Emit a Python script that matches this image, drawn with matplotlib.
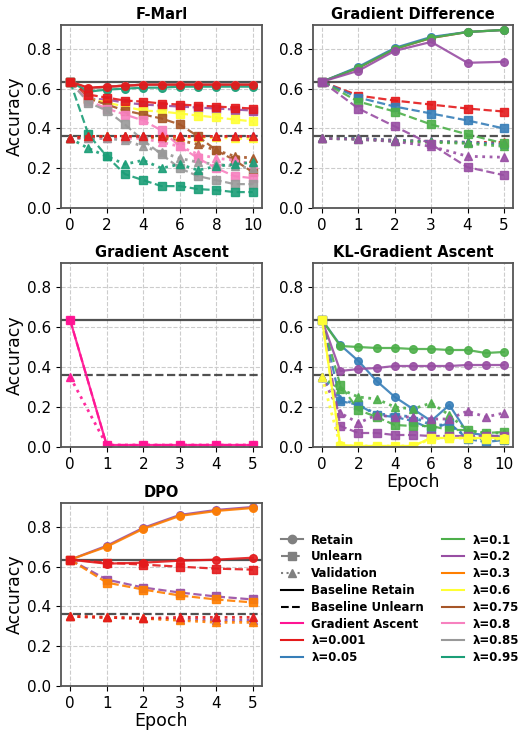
import numpy as np
import matplotlib.pyplot as plt
from matplotlib.lines import Line2D

# colours for each lambda
lam_colors = {
    '0.001': '#e41a1c', '0.05': '#377eb8', '0.1': '#4daf4a', '0.2': '#984ea3',
    '0.3': '#ff7f00', '0.6': '#ffff33', '0.75': '#a65628', '0.8': '#f781bf',
    '0.85': '#999999', '0.95': '#1b9e77',
}
ga_color = '#ff1493'
baseline_retain = 0.635
baseline_unlearn = 0.362

ep10 = list(range(11))
ep5 = list(range(6))

# F-Marl: (retain, unlearn, validation) per lambda
fmarl = {
    '0.2':  ([0.635, 0.60, 0.61, 0.615, 0.62, 0.62, 0.62, 0.62, 0.62, 0.62, 0.62],
             [0.635, 0.55, 0.545, 0.53, 0.52, 0.515, 0.51, 0.505, 0.50, 0.495, 0.49],
             [0.35, 0.36, 0.36, 0.36, 0.36, 0.36, 0.36, 0.36, 0.36, 0.36, 0.36]),
    '0.6':  ([0.635, 0.60, 0.61, 0.615, 0.62, 0.62, 0.62, 0.62, 0.62, 0.62, 0.62],
             [0.635, 0.55, 0.53, 0.51, 0.49, 0.485, 0.475, 0.465, 0.455, 0.445, 0.435],
             [0.35, 0.36, 0.36, 0.355, 0.355, 0.355, 0.355, 0.355, 0.355, 0.35, 0.35]),
    '0.75': ([0.635, 0.60, 0.61, 0.615, 0.62, 0.62, 0.62, 0.62, 0.62, 0.62, 0.62],
             [0.635, 0.55, 0.52, 0.49, 0.47, 0.45, 0.42, 0.36, 0.29, 0.24, 0.18],
             [0.35, 0.36, 0.36, 0.36, 0.36, 0.35, 0.34, 0.32, 0.29, 0.26, 0.25]),
    '0.8':  ([0.635, 0.60, 0.61, 0.615, 0.62, 0.62, 0.62, 0.62, 0.62, 0.62, 0.62],
             [0.635, 0.54, 0.50, 0.47, 0.44, 0.39, 0.31, 0.25, 0.20, 0.16, 0.15],
             [0.35, 0.35, 0.35, 0.35, 0.35, 0.33, 0.31, 0.27, 0.25, 0.24, 0.22]),
    '0.85': ([0.635, 0.60, 0.61, 0.615, 0.62, 0.62, 0.62, 0.62, 0.62, 0.62, 0.62],
             [0.635, 0.53, 0.49, 0.42, 0.34, 0.27, 0.20, 0.16, 0.14, 0.12, 0.12],
             [0.35, 0.35, 0.35, 0.34, 0.31, 0.28, 0.25, 0.23, 0.22, 0.21, 0.20]),
    '0.95': ([0.635, 0.585, 0.595, 0.60, 0.605, 0.605, 0.61, 0.61, 0.61, 0.61, 0.61],
             [0.635, 0.37, 0.26, 0.17, 0.14, 0.11, 0.11, 0.095, 0.09, 0.08, 0.08],
             [0.35, 0.30, 0.26, 0.22, 0.24, 0.20, 0.22, 0.19, 0.21, 0.22, 0.23]),
    '0.001': ([0.635, 0.605, 0.61, 0.615, 0.62, 0.62, 0.62, 0.62, 0.62, 0.62, 0.62],
              [0.635, 0.57, 0.555, 0.54, 0.535, 0.525, 0.52, 0.515, 0.51, 0.505, 0.50],
              [0.35, 0.36, 0.36, 0.36, 0.36, 0.36, 0.36, 0.36, 0.36, 0.36, 0.36]),
}

graddiff = {
    '0.001': ([0.635, 0.705, 0.80, 0.855, 0.885, 0.895],
              [0.635, 0.565, 0.54, 0.52, 0.50, 0.485],
              [0.35, 0.35, 0.34, 0.335, 0.33, 0.33]),
    '0.05': ([0.635, 0.71, 0.805, 0.86, 0.885, 0.895],
             [0.635, 0.555, 0.51, 0.475, 0.44, 0.40],
             [0.35, 0.35, 0.34, 0.335, 0.33, 0.32]),
    '0.1': ([0.635, 0.705, 0.80, 0.855, 0.885, 0.895],
            [0.635, 0.535, 0.485, 0.42, 0.37, 0.325],
            [0.35, 0.345, 0.335, 0.33, 0.325, 0.31]),
    '0.2': ([0.635, 0.69, 0.79, 0.835, 0.73, 0.735],
            [0.635, 0.50, 0.41, 0.32, 0.205, 0.165],
            [0.35, 0.345, 0.335, 0.31, 0.26, 0.255]),
}

ga_retain = [0.635, 0.01, 0.01, 0.01, 0.01, 0.01]
ga_unlearn = [0.635, 0.01, 0.01, 0.01, 0.01, 0.01]
ga_val = [0.35, 0.01, 0.01, 0.01, 0.01, 0.01]

klga = {
    '0.05': ([0.635, 0.51, 0.43, 0.33, 0.25, 0.19, 0.13, 0.21, 0.07, 0.06, 0.05],
             [0.635, 0.23, 0.21, 0.16, 0.15, 0.13, 0.09, 0.12, 0.04, 0.025, 0.035],
             [0.35, 0.24, 0.21, 0.165, 0.16, 0.15, 0.11, 0.11, 0.05, 0.04, 0.04]),
    '0.1': ([0.635, 0.505, 0.50, 0.495, 0.495, 0.49, 0.49, 0.485, 0.485, 0.47, 0.475],
            [0.635, 0.31, 0.185, 0.15, 0.11, 0.105, 0.105, 0.085, 0.085, 0.07, 0.075],
            [0.35, 0.29, 0.25, 0.24, 0.20, 0.19, 0.22, 0.16, 0.08, 0.07, 0.07]),
    '0.2': ([0.635, 0.38, 0.39, 0.395, 0.405, 0.405, 0.405, 0.405, 0.41, 0.41, 0.41],
            [0.635, 0.105, 0.07, 0.07, 0.06, 0.06, 0.055, 0.055, 0.055, 0.055, 0.055],
            [0.35, 0.17, 0.12, 0.16, 0.15, 0.15, 0.14, 0.14, 0.18, 0.15, 0.17]),
    '0.6': ([0.635, 0.01, 0.005, 0.005, 0.005, 0.005, 0.045, 0.045, 0.045, 0.045, 0.045],
            [0.635, 0.005, 0.005, 0.005, 0.005, 0.005, 0.045, 0.045, 0.045, 0.045, 0.04],
            [0.35, 0.005, 0.005, 0.005, 0.005, 0.005, 0.04, 0.045, 0.045, 0.04, 0.04]),
}

dpo = {
    '0.2': ([0.635, 0.705, 0.795, 0.86, 0.885, 0.90],
            [0.635, 0.535, 0.495, 0.47, 0.45, 0.435],
            [0.35, 0.345, 0.34, 0.335, 0.33, 0.33]),
    '0.3': ([0.635, 0.70, 0.79, 0.855, 0.88, 0.895],
            [0.635, 0.52, 0.485, 0.455, 0.435, 0.42],
            [0.35, 0.345, 0.34, 0.33, 0.32, 0.32]),
    '0.001': ([0.635, 0.615, 0.62, 0.63, 0.635, 0.645],
              [0.635, 0.62, 0.61, 0.60, 0.59, 0.585],
              [0.35, 0.345, 0.34, 0.345, 0.345, 0.345]),
}

LW = 1.6
MS = 5.5


def draw(ax, epochs, retain, unlearn, val, color):
    ax.plot(epochs, retain, '-', marker='o', color=color, lw=LW, ms=MS,
            mec=color, alpha=0.9)
    ax.plot(epochs, unlearn, '--', marker='s', color=color, lw=LW, ms=MS,
            mec=color, alpha=0.9)
    ax.plot(epochs, val, ':', marker='^', color=color, lw=LW + 0.4, ms=MS,
            mec=color, alpha=0.9)


def style(ax, title, xticks, xlabel=False, ylabel=False):
    ax.axhline(baseline_retain, color='#333333', lw=1.6, alpha=0.85, zorder=1)
    ax.axhline(baseline_unlearn, color='#333333', lw=1.6, ls='--', alpha=0.85, zorder=1)
    ax.set_ylim(0, 0.92)
    ax.set_yticks([0.0, 0.2, 0.4, 0.6, 0.8])
    ax.set_xticks(xticks)
    ax.set_xlim(xticks[0] - 0.05 * (xticks[-1] - xticks[0]), xticks[-1] + 0.05 * (xticks[-1] - xticks[0]))
    ax.grid(True, ls='--', color='#cccccc', lw=0.8)
    ax.set_axisbelow(True)
    ax.tick_params(labelsize=11)
    ax.set_title(title, fontsize=10.5, fontweight='bold', pad=4)
    for s in ax.spines.values():
        s.set_color('#555555')
        s.set_linewidth(1.3)
    if xlabel:
        ax.set_xlabel('Epoch', fontsize=12.5, labelpad=1)
    if ylabel:
        ax.set_ylabel('Accuracy', fontsize=12.5, labelpad=2)


fig = plt.figure(figsize=(5.23, 7.32), dpi=100)
W, H = 523, 732


def add_ax(x0, y0, x1, y1):
    return fig.add_axes([x0 / W, 1 - y1 / H, (x1 - x0) / W, (y1 - y0) / H])


ax1 = add_ax(61, 25, 262, 208)
ax2 = add_ax(313, 25, 513, 208)
ax3 = add_ax(61, 263, 262, 447)
ax4 = add_ax(313, 263, 513, 447)
ax5 = add_ax(61, 503, 262, 686)

for lam, (r, u, v) in fmarl.items():
    draw(ax1, ep10, r, u, v, lam_colors[lam])
style(ax1, 'F-Marl', [0, 2, 4, 6, 8, 10], ylabel=True)

for lam, (r, u, v) in graddiff.items():
    draw(ax2, ep5, r, u, v, lam_colors[lam])
style(ax2, 'Gradient Difference', ep5)

draw(ax3, ep5, ga_retain, ga_unlearn, ga_val, ga_color)
style(ax3, 'Gradient Ascent', ep5, ylabel=True)

for lam, (r, u, v) in klga.items():
    draw(ax4, ep10, r, u, v, lam_colors[lam])
style(ax4, 'KL-Gradient Ascent', [0, 2, 4, 6, 8, 10], xlabel=True)

for lam, (r, u, v) in dpo.items():
    draw(ax5, ep5, r, u, v, lam_colors[lam])
style(ax5, 'DPO', ep5, xlabel=True, ylabel=True)

# legend
handles = [
    Line2D([], [], color='gray', marker='o', ls='-', ms=6),
    Line2D([], [], color='gray', marker='s', ls='--', ms=6),
    Line2D([], [], color='gray', marker='^', ls=':', ms=6),
    Line2D([], [], color='black', ls='-'),
    Line2D([], [], color='black', ls='--'),
    Line2D([], [], color=ga_color, ls='-'),
]
labels = ['Retain', 'Unlearn', 'Validation', 'Baseline Retain', 'Baseline Unlearn', 'Gradient Ascent']
for lam, c in lam_colors.items():
    handles.append(Line2D([], [], color=c, ls='-'))
    labels.append('\u03bb=' + lam)

fig.legend(handles, labels, loc='upper left', bbox_to_anchor=(270 / W, 1 - 523 / H),
           ncol=2, frameon=False, prop={'weight': 'bold', 'size': 8.5},
           handlelength=1.9, handletextpad=0.7, columnspacing=1.5, labelspacing=0.32)

fig.savefig('out.png', dpi=100)
